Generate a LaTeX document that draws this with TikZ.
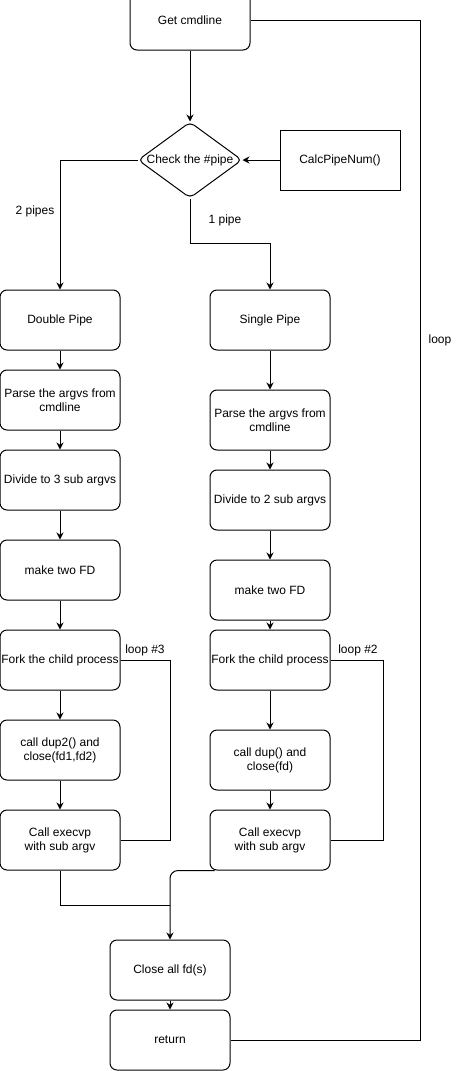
\documentclass[tikz,border=0pt]{standalone}
\usepackage{fontspec}
\setmainfont{Liberation Sans}
\usetikzlibrary{shapes.geometric,arrows.meta}

\tikzset{
	txt/.style={font=\fontsize{12}{14}\selectfont},
	procbox/.style={txt, draw, line width=1pt, rounded corners=7pt, minimum width=120pt, minimum height=60pt, align=center, inner sep=1pt},
	flow/.style={line width=1pt, -{Stealth[length=7pt,width=7pt]}},
	wire/.style={line width=1pt}
}

\begin{document}
\begin{tikzpicture}[x=1pt, y=-1pt]

\useasboundingbox (0,0) rectangle (461,1071);

\node[procbox, minimum height=59pt] (getcmd) at (190,20.5) {Get cmdline};
\node[draw, line width=1pt, diamond, rounded corners=5pt, minimum width=104pt, minimum height=76pt, inner sep=0pt, label={[txt]center:Check the \#pipe}] (check) at (190,160) {};
\node[txt, draw, line width=1pt, minimum width=120pt, minimum height=60pt] (calc) at (340,160) {CalcPipeNum()};

% left column: two pipes
\foreach \n/\y/\t in {1/320/{Double Pipe}, 2/400/{Parse the argvs from\\cmdline}, 3/480/{Divide to 3 sub argvs}, 4/570/{make two FD}, 5/660/{Fork the child process}, 6/750/{call dup2() and\\close(fd1,fd2)}, 7/840/{Call execvp\\with sub argv}}
	\node[procbox] (l\n) at (60,\y) {\t};

% right column: one pipe
\foreach \n/\y/\t in {1/320/{Single Pipe}, 2/420/{Parse the argvs from\\cmdline}, 3/500/{Divide to 2 sub argvs}, 4/590/{make two FD}, 5/660/{Fork the child process}, 6/760/{call dup() and\\close(fd)}, 7/840/{Call execvp\\with sub argv}}
	\node[procbox] (r\n) at (270,\y) {\t};

\node[procbox] (close) at (170,970) {Close all fd(s)};
\node[procbox] (ret) at (170,1040) {return};

\foreach \a/\b in {1/2,2/3,3/4,4/5,5/6,6/7} {
	\draw[flow] (l\a) -- (l\b);
	\draw[flow] (r\a) -- (r\b);
}

\draw[flow] (getcmd) -- (check);
\draw[flow] (calc) -- (check);
\draw[flow] (check.west) -| (l1.north);
\draw[flow] (check.south) -- ++(0,45) -| (r1.north);
\node[txt] (twopipes) at (35,211) {2 pipes};
\node[txt] (onepipe) at (225,220) {1 pipe};

\draw[wire] (l5.east) -- ++(50,0) |- (l7.east);
\draw[wire] (r5.east) -- ++(53,0) |- (r7.east);
\node[txt] (loopthree) at (145,650) {loop \#3};
\node[txt] (looptwo) at (358,650) {loop \#2};

\coordinate (join) at (170,905);
\draw[wire] (l7.south) |- (join);
\draw[flow, rounded corners=8pt] ([xshift=5pt]r7.south west) -| (close.north);
\draw[flow] (close) -- (ret);

\draw[wire] (ret.east) -- ++(190,0) |- (getcmd.east);
\node[txt] (loop) at (440,340) {loop};

\end{tikzpicture}
\end{document}
